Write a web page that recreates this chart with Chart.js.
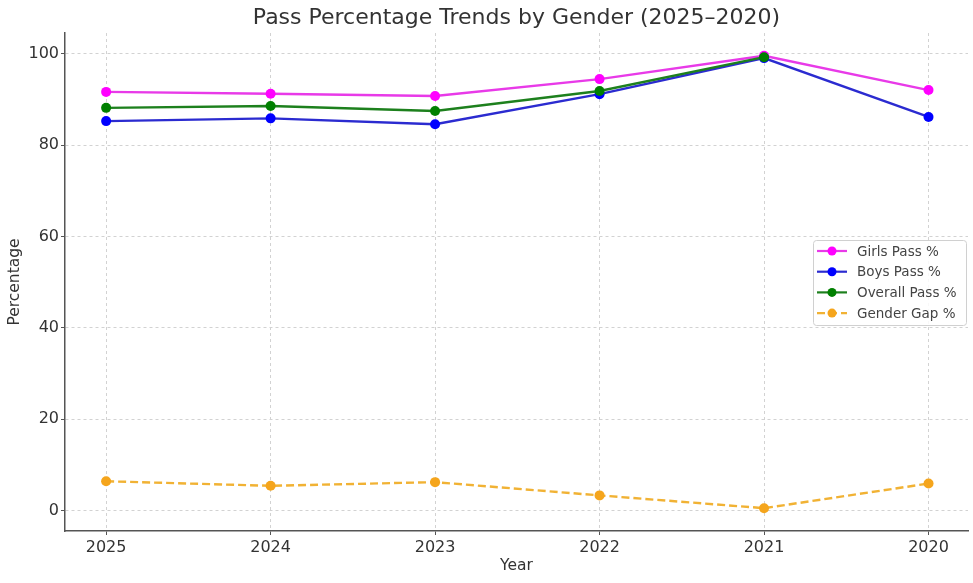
<!DOCTYPE html>
<html>
<head>
<meta charset="utf-8">
<script src="https://cdn.jsdelivr.net/npm/chart.js@4.4.1/dist/chart.umd.min.js"></script>
<style>
  html, body { margin: 0; padding: 0; background: #fff; }
  #wrap { width: 973px; height: 583px; position: relative; }
</style>
</head>
<body>
<div id="wrap"><canvas id="grafica"></canvas></div>
<script>
// 📊 DATOS
const years = ["2025", "2024", "2023", "2022", "2021", "2020"];
const girlsPass = [91.7, 91.3, 90.8, 94.5, 99.6, 92.1];
const boysPass = [85.3, 85.9, 84.6, 91.2, 99.1, 86.2];
const overallPass = [88.2, 88.6, 87.5, 91.9, 99.3, null];
const genderGap = [6.4, 5.4, 6.2, 3.3, 0.5, 5.9];
const yTicks = [0, 20, 40, 60, 80, 100];

const FONT = "'DejaVu Sans', sans-serif";

function puntos(valores) {
  return valores.map((v, i) => ({ x: i, y: v }));
}

// 🏷️ LEYENDA (dentro del area, a la derecha)
const leyenda = {
  id: 'leyenda',
  afterDraw(chart) {
    const ctx = chart.ctx;
    const items = chart.data.datasets;
    const x0 = 813, y0 = 240, w = 153, h = 85;
    ctx.save();
    ctx.fillStyle = 'rgba(255,255,255,0.85)';
    ctx.strokeStyle = '#d0d0d0';
    ctx.lineWidth = 1;
    ctx.beginPath();
    ctx.roundRect(x0 + 0.5, y0 + 0.5, w, h, 3);
    ctx.fill();
    ctx.stroke();

    ctx.font = "13.5px " + FONT;
    ctx.textBaseline = 'middle';
    items.forEach((ds, i) => {
      const y = y0 + 11 + i * 20.7;
      ctx.strokeStyle = ds.borderColor;
      ctx.lineWidth = 2.2;
      ctx.setLineDash(ds.borderDash || []);
      ctx.beginPath();
      ctx.moveTo(x0 + 4, y);
      ctx.lineTo(x0 + 34, y);
      ctx.stroke();
      ctx.setLineDash([]);
      ctx.fillStyle = ds.pointBackgroundColor;
      ctx.beginPath();
      ctx.arc(x0 + 19, y, 4.5, 0, Math.PI * 2);
      ctx.fill();
      ctx.fillStyle = '#444';
      ctx.fillText(ds.label, x0 + 44, y + 1);
    });
    ctx.restore();
  }
};

// 📈 GRAFICA
function crearGrafica() {

  const ctx = document.getElementById("grafica").getContext("2d");

  new Chart(ctx, {
    type: 'line',
    data: {
      datasets: [
        {
          label: 'Girls Pass %',
          data: puntos(girlsPass),
          borderColor: '#e83ae8',
          pointBackgroundColor: '#ff00ff',
          pointBorderColor: '#ff00ff',
          order: 4
        },
        {
          label: 'Boys Pass %',
          data: puntos(boysPass),
          borderColor: '#2b2bd0',
          pointBackgroundColor: '#0000ff',
          pointBorderColor: '#0000ff',
          order: 3
        },
        {
          label: 'Overall Pass %',
          data: puntos(overallPass),
          borderColor: '#1d801d',
          pointBackgroundColor: '#008000',
          pointBorderColor: '#008000',
          order: 2
        },
        {
          label: 'Gender Gap %',
          data: puntos(genderGap),
          borderColor: 'rgba(240,170,30,0.9)',
          borderDash: [8, 4],
          pointBackgroundColor: '#f5a51c',
          pointBorderColor: '#f5a51c',
          order: 1
        }
      ]
    },
    options: {
      responsive: true,
      maintainAspectRatio: false,
      animation: false,
      spanGaps: false,
      layout: { padding: { left: 0, right: 3, top: 0, bottom: 0 } },
      elements: {
        line: { borderWidth: 2.4, tension: 0 },
        point: { radius: 5, borderWidth: 0, hoverRadius: 5 }
      },
      plugins: {
        legend: { display: false },
        tooltip: { enabled: false },
        title: {
          display: true,
          fullSize: false,
          text: 'Pass Percentage Trends by Gender (2025–2020)',
          color: '#333',
          font: { family: FONT, size: 22, weight: 'normal' },
          padding: { top: 5, bottom: 1.6 }
        }
      },
      scales: {
        x: {
          type: 'linear',
          min: -0.25,
          max: 5.24,
          afterBuildTicks: s => { s.ticks = years.map((y, i) => ({ value: i })); },
          afterFit: s => { s.height = 52; },
          ticks: {
            callback: v => years[v],
            color: '#333',
            font: { family: FONT, size: 16 },
            padding: 3,
            maxRotation: 0
          },
          grid: {
            color: '#d2d2d2',
            lineWidth: 1,
            tickLength: 4,
            tickColor: '#555',
            tickWidth: 1
          },
          border: { display: true, color: '#555', width: 1.5, dash: [3, 3] },
          title: {
            display: true,
            text: 'Year',
            color: '#333',
            font: { family: FONT, size: 15.5 },
            padding: 8
          }
        },
        y: {
          min: -4.5,
          max: 104.6,
          afterBuildTicks: s => { s.ticks = yTicks.map(v => ({ value: v })); },
          afterFit: s => { s.width = 65; },
          ticks: {
            color: '#333',
            font: { family: FONT, size: 16 },
            padding: 2
          },
          grid: {
            color: '#d2d2d2',
            lineWidth: 1,
            tickLength: 4,
            tickColor: '#555',
            tickWidth: 1
          },
          border: { display: true, color: '#555', width: 1.5, dash: [3, 3] },
          title: {
            display: true,
            text: 'Percentage',
            color: '#333',
            font: { family: FONT, size: 15.5 },
            padding: 6
          }
        }
      }
    },
    plugins: [leyenda]
  });
}

crearGrafica();
</script>
</body>
</html>
